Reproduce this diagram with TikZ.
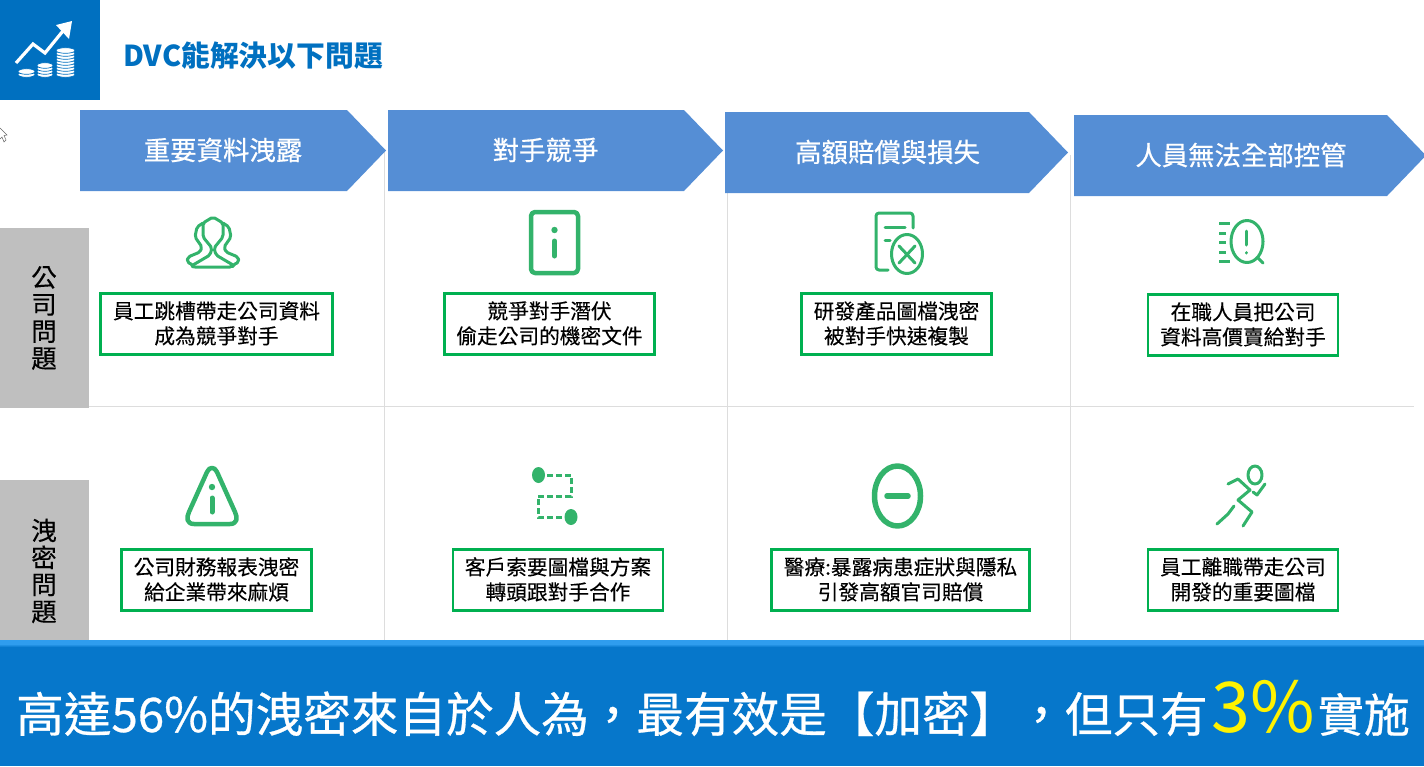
\documentclass[tikz,border=0pt]{standalone}
\usepackage{fontspec}
\setmainfont{Noto Sans CJK TC}
\newfontfamily\headfont[FakeBold=0.6]{Noto Sans CJK TC}
\newfontfamily\boxfont[FakeBold=0.2]{Noto Sans CJK TC}
\definecolor{titleblue}{HTML}{0070C0}
\definecolor{bannerblue}{HTML}{0677CB}
\definecolor{bannerlight}{HTML}{2F9DEE}
\definecolor{arrowblue}{HTML}{558ED5}
\definecolor{boxgreen}{HTML}{00B050}
\definecolor{icongreen}{HTML}{33B36B}
\definecolor{sidegray}{HTML}{BFBFBF}
\definecolor{gridgray}{HTML}{DDDDDD}
\tikzset{
	headarrow/.style = {fill = arrowblue, draw = none},
	headtext/.style = {text = white, font = \fontsize{26.4}{26.4}\headfont, inner sep = 0pt},
	sidebox/.style = {fill = sidegray, draw = none, minimum width = 89pt, text width = 30pt, align = center, inner sep = 0pt, font = \fontsize{25.5}{27}\boxfont},
	issuebox/.style = {draw = boxgreen, line width = 2.4pt, fill = white, align = center, inner sep = 0pt, font = \fontsize{20.7}{25}\boxfont, execute at end node = {\rule[-3pt]{0pt}{3pt}}},
	gridline/.style = {draw = gridgray, line width = 0.9pt},
	iconline/.style = {draw = icongreen, line width = 3pt, line cap = round, line join = round},
	thinicon/.style = {draw = icongreen, line width = 3pt, line cap = round, line join = round},
	coinline/.style = {draw = titleblue, line width = 0.7pt, fill = white},
}
\begin{document}
\begin{tikzpicture}[x = 1pt, y = -1pt]
		\useasboundingbox (0, 0) rectangle (1424, 766);
		%%%%%%%%%%%%% grid
		\coordinate (v1t) at (384.5, 150); \coordinate (v1b) at (384.5, 642);
		\coordinate (v2t) at (727, 152); \coordinate (v2b) at (727, 642);
		\coordinate (v3t) at (1070, 155); \coordinate (v3b) at (1070, 642);
		\coordinate (hl) at (89, 406.5); \coordinate (hr) at (1414, 406.5);
		\draw [gridline] (v1t) to (v1b); \draw [gridline] (v2t) to (v2b);
		\draw [gridline] (v3t) to (v3b); \draw [gridline] (hl) to (hr);
		%%%%%%%%%%%%% title
		\fill [titleblue] (0, 0) rectangle (100, 100);
		\foreach \cx/\ctop/\crad in {26.5/70/8.5, 45/64/8, 65.5/50/9.5} {
			\foreach \cy in {74.5, 71.5, ..., \ctop} {
				\draw [coinline] (\cx, \cy) ellipse ({\crad} and 2.8);
			}
		}
		\draw [white, line width = 3.2pt] (16, 63) to (33, 44) to (45, 53) to (67, 26);
		\fill [white] (72, 21) to (69, 39) to (56, 25) to cycle;
		\node [anchor = west, text = titleblue, inner sep = 0pt, font = \fontsize{28.8}{28.8}\selectfont\bfseries] (maintitle) at (123, 56) {DVC能解決以下問題};
		\draw [black!60, line width = 0.5pt, fill = white] (0, 128) to (7, 135) to (4, 135.5) to (6, 140) to (4, 142) to (2, 137) to (0, 139);
		%%%%%%%%%%%%% header arrows
		\fill [headarrow] (80, 110) to (347, 110) to (386, 150.5) to (347, 191) to (80, 191) to cycle;
		\fill [headarrow] (388, 110) to (684, 110) to (723, 150.5) to (684, 191) to (388, 191) to cycle;
		\fill [headarrow] (725, 112) to (1029, 112) to (1068, 152.5) to (1029, 193) to (725, 193) to cycle;
		\fill [headarrow] (1074, 115) to (1387, 115) to (1426, 155.5) to (1387, 196) to (1074, 196) to cycle;
		\node [headtext] (heada) at (223, 150) {重要資料洩露};
		\node [headtext] (headb) at (545.5, 150) {對手競爭};
		\node [headtext] (headc) at (887.5, 152) {高額賠償與損失};
		\node [headtext] (headd) at (1241, 155) {人員無法全部控管};
		%%%%%%%%%%%%% side boxes
		\node [sidebox, minimum height = 180pt] (sidea) at (44, 318) {公\\司\\問\\題};
		\node [sidebox, minimum height = 182pt] (sideb) at (44, 571) {洩\\密\\問\\題};
		%%%%%%%%%%%%% issue boxes
		\node [issuebox, minimum width = 232pt, minimum height = 61pt] (issuea) at (216.5, 324) {員工跳槽帶走公司資料\\成為競爭對手};
		\node [issuebox, minimum width = 210pt, minimum height = 61pt] (issueb) at (549.5, 324) {競爭對手潛伏\\偷走公司的機密文件};
		\node [issuebox, minimum width = 190pt, minimum height = 61pt] (issuec) at (896.5, 324) {研發產品圖檔洩密\\被對手快速複製};
		\node [issuebox, minimum width = 190pt, minimum height = 61pt] (issued) at (1243, 325) {在職人員把公司\\資料高價賣給對手};
		\node [issuebox, minimum width = 190pt, minimum height = 61pt] (issuee) at (216.5, 580) {公司財務報表洩密\\給企業帶來麻煩};
		\node [issuebox, minimum width = 210pt, minimum height = 61pt] (issuef) at (558, 580) {客戶索要圖檔與方案\\轉頭跟對手合作};
		\node [issuebox, minimum width = 258pt, minimum height = 61pt] (issueg) at (900.5, 580) {醫療:暴露病患症狀與隱私\\引發高額官司賠償};
		\node [issuebox, minimum width = 190pt, minimum height = 61pt] (issueh) at (1243, 580) {員工離職帶走公司\\開發的重要圖檔};
		%%%%%%%%%%%%% icons, upper row
		\draw [thinicon, rounded corners = 2pt] (193, 265) to (210, 255) to (212, 248) to (203, 237) to (203, 223) to (213, 217) to (223, 223) to (223, 237) to (214, 248) to (216, 255) to (233, 265);
		\draw [thinicon, rounded corners = 2pt] (203, 223) to (197, 227) to (195, 237) to (202, 247) to (200, 252) to (188, 257) to (187, 262) to (193, 265) to (193, 267) to (232, 267) to (233, 265) to (239, 262) to (238, 257) to (226, 252) to (224, 247) to (231, 237) to (229, 227) to (223, 223);
		\draw [iconline, line width = 4.5pt, rounded corners = 4pt] (531, 212) rectangle (578, 273);
		\fill [icongreen] (554.5, 230) circle (3.2);
		\draw [iconline, line width = 5pt] (554.5, 241) to (554.5, 256);
		\draw [thinicon, rounded corners = 3pt] (913, 228) to (913, 213) to (876, 213) to (876, 270) to (888, 270);
		\draw [thinicon] (885, 227) to (905, 227); \draw [thinicon] (885, 240) to (890, 240);
		\draw [thinicon] (907, 254) ellipse (15.5 and 19.5);
		\draw [thinicon] (899, 246) to (915, 263); \draw [thinicon] (915, 246) to (899, 263);
		\foreach \ly/\lw in {223/11, 233/7, 242/7, 252/7, 261/11} {
			\draw [icongreen, line width = 3pt] (1219, \ly) to ++(\lw, 0);
		}
		\draw [thinicon] (1247, 241.5) ellipse (16 and 21);
		\draw [thinicon] (1258, 258) to (1263, 263);
		\draw [thinicon] (1246, 231) to (1246, 245); \draw [thinicon] (1246, 252.5) to (1246, 253);
		%%%%%%%%%%%%% icons, lower row
		\draw [iconline, line width = 4.5pt] (194, 524) .. controls (187, 524) and (186, 518) .. (189, 512) -- (207, 472) .. controls (209.5, 466.5) and (214.5, 466.5) .. (217, 472) -- (235, 512) .. controls (238, 518) and (237, 524) .. (230, 524) -- cycle;
		\fill [icongreen] (212, 487) circle (3.2);
		\draw [iconline, line width = 5pt] (212, 498) to (212, 512);
		\fill [icongreen] (538.5, 475) ellipse (6.5 and 8);
		\fill [icongreen] (571, 517) ellipse (6.5 and 8);
		\draw [icongreen, line width = 3pt, dash pattern = on 6pt off 3pt] (547, 475) to (571, 475) to (571, 496) to (538, 496) to (538, 517) to (564, 517);
		\draw [iconline, line width = 5.5pt] (897.5, 496) ellipse (23 and 30);
		\draw [iconline, line width = 5.5pt] (887, 496) to (908, 496);
		\draw [thinicon] (1255, 475) ellipse (7 and 9);
		\draw [thinicon] (1228, 484) to (1238, 479) to (1250, 490) to (1238, 500) to (1252, 512) to (1243, 526);
		\draw [thinicon] (1253, 492) to (1257, 495) to (1265, 484);
		\draw [thinicon] (1234, 506) to (1228, 514) to (1217, 524);
		%%%%%%%%%%%%% bottom banner
		\fill [bannerlight] (0, 640) rectangle (1424, 644);
		\shade [top color = bannerlight, bottom color = bannerblue] (0, 644) rectangle (1424, 647);
		\fill [bannerblue] (0, 647) rectangle (1424, 766);
		\node [anchor = base west, text = white, inner sep = 0pt, font = \fontsize{47.6}{47.6}\headfont] (bannerl) at (16, 732) {高達56\%的洩密來自於人為，最有效是【加密】，但只有};
		\node [anchor = base west, text = yellow, inner sep = 0pt, font = \fontsize{70}{70}\selectfont] (bannerm) at (1211, 732) {3\%};
		\node [anchor = base east, text = white, inner sep = 0pt, font = \fontsize{46}{46}\headfont] (bannerr) at (1410, 732) {實施};
\end{tikzpicture}
\end{document}
